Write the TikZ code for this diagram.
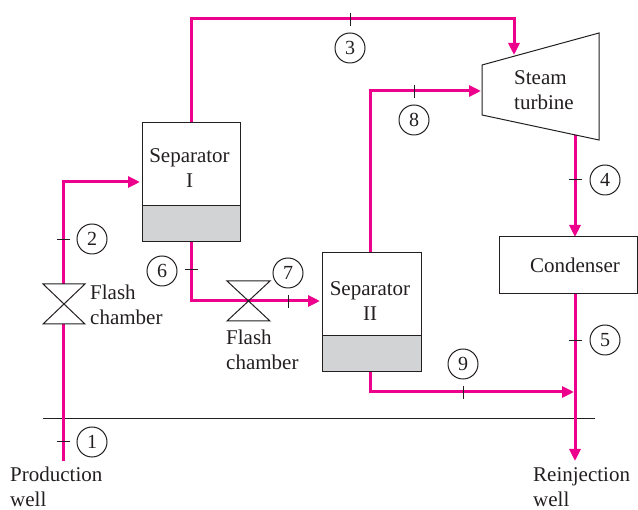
\documentclass[tikz,border=0pt]{standalone}
\usepackage{fontspec}
\setmainfont{Liberation Serif}
\usetikzlibrary{arrows.meta}
\definecolor{pipe}{RGB}{236,0,140}
\definecolor{ink}{RGB}{35,31,32}
\definecolor{liquid}{RGB}{209,211,212}
\tikzset{
  x=1pt,y=-1pt,
  every node/.style={font=\fontsize{21}{25}\selectfont,text=ink,inner sep=0pt},
  pipeline/.style={draw=pipe,line width=3pt},
  flow/.style={pipeline,-{Triangle[length=12pt,width=11pt]}},
  outline/.style={draw=ink,line width=1pt},
  tick/.style={draw=ink,line width=1pt},
  statenum/.style={circle,draw=ink,line width=1pt,minimum size=30pt,inner sep=0pt,font=\fontsize{20}{22}\selectfont},
  lbl/.style={align=left,anchor=north west},
  lblc/.style={align=center}
}
\begin{document}
\begin{tikzpicture}
\useasboundingbox (0,0) rectangle (638,510);
% coordinates
\coordinate (wellin) at (63,461);
\coordinate (v1b) at (63,324);
\coordinate (v1t) at (63,284);
\coordinate (c2) at (63,182);
\coordinate (s1in) at (140,182);
\coordinate (s1t) at (191,123);
\coordinate (c3a) at (191,19);
\coordinate (c3b) at (514,19);
\coordinate (turbtop) at (514,55);
\coordinate (s1b) at (191,242);
\coordinate (c6) at (191,301);
\coordinate (s2in) at (320,301);
\coordinate (s2t) at (370,253);
\coordinate (c8) at (370,91);
\coordinate (turbin) at (481,91);
\coordinate (s2b) at (370,372);
\coordinate (c9) at (370,392);
\coordinate (j) at (574,392);
\coordinate (turbout) at (575,135);
\coordinate (condt) at (575,237);
\coordinate (condb) at (575,294);
\coordinate (wellout) at (575,461);
\coordinate (gl) at (43,419);
\coordinate (gr) at (595,419);
% ground line
\draw[outline] (gl) -- (gr);
% pipes
\draw[pipeline] (wellin) -- (v1b);
\draw[flow] (v1t) -- (c2) -- (s1in);
\draw[flow] (s1t) -- (c3a) -- (c3b) -- (turbtop);
\draw[flow] (s1b) -- (c6) -- (s2in);
\draw[flow] (s2t) -- (c8) -- (turbin);
\draw[flow] (s2b) -- (c9) -- (j);
\draw[flow] (turbout) -- (condt);
\draw[flow] (condb) -- (wellout);
% separators
\fill[liquid] (142,206) rectangle (240,242);
\draw[outline] (142,123) rectangle (240,242);
\draw[outline] (142,206) -- (240,206);
\fill[liquid] (322,336) rectangle (421,372);
\draw[outline] (322,253) rectangle (421,372);
\draw[outline] (322,336) -- (421,336);
\node[lblc] (sepI) at (189.5,168) {Separator\\I};
\node[lblc] (sepII) at (370,301) {Separator\\II};
% turbine
\draw[outline,line join=miter] (482,65) -- (599,33) -- (599,140) -- (482,115) -- cycle;
\node[lbl] (turb) at (514,70) {Steam\\turbine};
% condenser
\node[draw=ink,line width=1pt,minimum width=138pt,minimum height=57pt] (cond) at (568,265.5) {\hspace*{14pt}Condenser};
% valves
\draw[outline,line join=miter] (43,284) -- (85,284) -- (43,324) -- (85,324) -- cycle;
\draw[outline,line join=miter] (227,281) -- (270,281) -- (227,321) -- (270,321) -- cycle;
\node[lbl] (fc1) at (90,285) {Flash\\chamber};
\node[lbl] (fc2) at (226,330) {Flash\\chamber};
% ticks
\draw[tick] (57,240) -- (70,240);
\draw[tick] (57,442) -- (70,442);
\draw[tick] (185,270) -- (198,270);
\draw[tick] (288,295) -- (288,308);
\draw[tick] (350,13) -- (350,26);
\draw[tick] (414,85) -- (414,98);
\draw[tick] (569,180) -- (582,180);
\draw[tick] (569,341) -- (582,341);
\draw[tick] (463,386) -- (463,399);
% state numbers
\node[statenum] (n1) at (92,442) {1};
\node[statenum] (n2) at (92,239) {2};
\node[statenum] (n3) at (350,48) {3};
\node[statenum] (n4) at (605,180) {4};
\node[statenum] (n5) at (605,340) {5};
\node[statenum] (n6) at (162,271) {6};
\node[statenum] (n7) at (288,273) {7};
\node[statenum] (n8) at (414,120) {8};
\node[statenum] (n9) at (463,364) {9};
% well labels
\node[lbl] (pw) at (10,467) {Production\\well};
\node[lbl] (rw) at (533,467) {Reinjection\\well};
\end{tikzpicture}
\end{document}
